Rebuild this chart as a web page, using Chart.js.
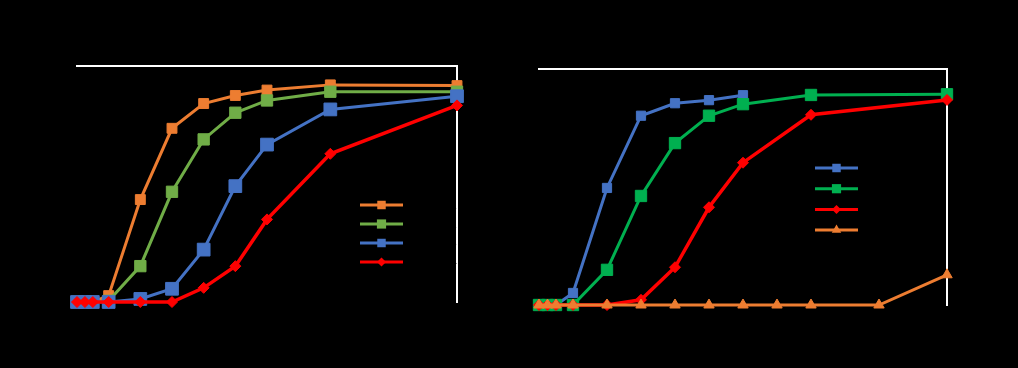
<!DOCTYPE html>
<html>
<head>
<meta charset="utf-8">
<script src="https://cdn.jsdelivr.net/npm/chart.js@4/dist/chart.umd.min.js"></script>
<style>
  html, body { margin: 0; padding: 0; background: #000; }
  .wrap { display: flex; width: 1018px; height: 368px; }
  canvas { display: block; }
</style>
</head>
<body>
<div class="wrap">
  <canvas id="leftChart" width="509" height="368"></canvas>
  <canvas id="rightChart" width="509" height="368"></canvas>
</div>
<script>
// left panel
const leftTimes = [0, 0.25, 0.5, 1, 2, 3, 4, 5, 6, 8, 12];
const leftLabels = ['Series 1', 'Series 2', 'Series 3', 'Series 4'];
const leftOrange = [0, 0, 0, 2.7, 43.4, 73.6, 84.1, 87.5, 89.8, 92.0, 91.7];
const leftGreen  = [0, 0, 0, 0.5, 15.2, 46.7, 68.9, 80.2, 85.4, 89.1, 89.1];
const leftBlue   = [0, 0, 0, 0, 1.3, 5.6, 22.2, 49.1, 66.7, 81.6, 87.2];
const leftRed    = [0, 0, 0, 0, 0, 0, 6.0, 15.2, 35.0, 62.8, 83.3];

// right panel (null = no point at that time)
const rightTimes = [0, 0.25, 0.5, 1, 2, 3, 4, 5, 6, 7, 8, 10, 12];
const rightLabels = ['Series 1', 'Series 2', 'Series 3', 'Series 4'];
const rightBlue   = [0, 0, 0, 5.1, 49.6, 80.2, 85.5, 86.8, 88.9, null, null, null, null];
const rightGreen  = [0, 0, 0, 0, 14.9, 46.2, 68.6, 80.2, 85.1, null, 89.0, null, 89.3];
const rightRed    = [0, 0, 0, 0, 0, 2.2, 16.0, 41.4, 60.3, null, 80.6, null, 86.9];
const rightOrange = [0, 0, 0, 0, 0, 0, 0, 0, 0, 0, 0, 0, 12.8];

const yTicks = [0, 20, 40, 60, 80, 100];

function points(xs, ys) {
  return xs.map((x, i) => ({ x: x, y: ys[i] })).filter(p => p.y !== null);
}

function marker(ctx, style, x, y, r, color) {
  ctx.fillStyle = color;
  ctx.beginPath();
  if (style === 'rect') {
    const s = Math.SQRT1_2 * r;
    ctx.rect(x - s, y - s, 2 * s, 2 * s);
  } else if (style === 'rectRot') {
    ctx.moveTo(x, y - r); ctx.lineTo(x + r, y); ctx.lineTo(x, y + r); ctx.lineTo(x - r, y);
    ctx.closePath();
  } else if (style === 'triangle') {
    for (let k = 0; k < 3; k++) {
      const a = k * 2 * Math.PI / 3;
      const px = x + Math.sin(a) * r, py = y - Math.cos(a) * r;
      k ? ctx.lineTo(px, py) : ctx.moveTo(px, py);
    }
    ctx.closePath();
  }
  ctx.fill();
}

const framePlugin = {
  id: 'frame',
  beforeDatasetsDraw(chart) {
    const { ctx, chartArea: a } = chart;
    ctx.save();
    ctx.strokeStyle = '#fff';
    ctx.lineWidth = 2;
    ctx.beginPath();
    ctx.moveTo(a.left - 1, a.top);
    ctx.lineTo(a.right, a.top);
    ctx.lineTo(a.right, a.bottom + 1);
    ctx.stroke();
    ctx.restore();
  },
  afterDatasetsDraw(chart, args, opts) {
    const { ctx } = chart;
    ctx.save();
    chart.data.datasets.forEach((ds, i) => {
      const y = opts.y + i * opts.gap;
      ctx.strokeStyle = ds.borderColor;
      ctx.lineWidth = 3;
      ctx.beginPath();
      ctx.moveTo(opts.x, y);
      ctx.lineTo(opts.x + opts.len, y);
      ctx.stroke();
      marker(ctx, ds.pointStyle, opts.x + opts.len / 2, y, ds.legendRadius, ds.borderColor);
      ctx.fillStyle = '#000';
      ctx.font = '13px "Liberation Sans", Arial, sans-serif';
      ctx.textBaseline = 'middle';
      ctx.fillText(ds.label, opts.x + opts.len + 6, y);
    });
    ctx.restore();
  }
};

function makeDataset(label, xs, ys, color, style, radius, legendRadius, width, order) {
  return {
    label: label,
    data: points(xs, ys),
    borderColor: color,
    backgroundColor: color,
    pointBackgroundColor: color,
    pointBorderColor: color,
    pointStyle: style,
    pointRadius: radius,
    pointBorderWidth: 1,
    borderWidth: width,
    tension: 0,
    clip: false,
    order: order,
    legendRadius: legendRadius
  };
}

function makeOptions(yWidth, xHeight, padTop, padRight, legend) {
  const font = { family: '"Liberation Sans", Arial, sans-serif', size: 12 };
  return {
    responsive: false,
    animation: false,
    layout: { autoPadding: false, padding: { top: padTop, right: padRight, left: 0, bottom: 0 } },
    plugins: {
      legend: { display: false },
      tooltip: { enabled: false },
      frame: legend
    },
    scales: {
      x: {
        type: 'linear', min: 0, max: 12,
        grid: { display: false },
        border: { color: '#000' },
        ticks: { color: '#000', stepSize: 2, font: font },
        title: { display: true, text: 'Time (h)', color: '#000', font: font },
        afterFit: s => { s.height = xHeight; }
      },
      y: {
        min: 0, max: 100,
        grid: { display: false },
        border: { color: '#000' },
        afterBuildTicks: s => { s.ticks = yTicks.map(v => ({ value: v })); },
        ticks: { color: '#000', font: font },
        title: { display: true, text: 'Cumulative release (%)', color: '#000', font: font },
        afterFit: s => { s.width = yWidth; }
      }
    }
  };
}

new Chart(document.getElementById('leftChart'), {
  type: 'line',
  data: {
    datasets: [
      makeDataset(leftLabels[0], leftTimes, leftOrange, '#ED7D31', 'rect', 7, 6, 3, 4),
      makeDataset(leftLabels[1], leftTimes, leftGreen, '#70AD47', 'rect', 8, 6.5, 3, 3),
      makeDataset(leftLabels[2], leftTimes, leftBlue, '#4472C4', 'rect', 9, 6, 3, 2),
      makeDataset(leftLabels[3], leftTimes, leftRed, '#FF0000', 'rectRot', 5.5, 4.5, 3.5, 1)
    ]
  },
  options: makeOptions(77, 66, 66, 52, { x: 360, y: 205, gap: 19, len: 43 }),
  plugins: [framePlugin]
});

new Chart(document.getElementById('rightChart'), {
  type: 'line',
  data: {
    datasets: [
      makeDataset(rightLabels[0], rightTimes, rightBlue, '#4472C4', 'rect', 6.5, 6, 3, 4),
      makeDataset(rightLabels[1], rightTimes, rightGreen, '#00B050', 'rect', 8, 6.5, 3, 3),
      makeDataset(rightLabels[2], rightTimes, rightRed, '#FF0000', 'rectRot', 5.5, 4.5, 3.5, 2),
      makeDataset(rightLabels[3], rightTimes, rightOrange, '#ED7D31', 'triangle', 6, 5.5, 3, 1)
    ]
  },
  options: makeOptions(30, 63, 69, 71, { x: 306, y: 168, gap: 20.7, len: 43 }),
  plugins: [framePlugin]
});
</script>
</body>
</html>
